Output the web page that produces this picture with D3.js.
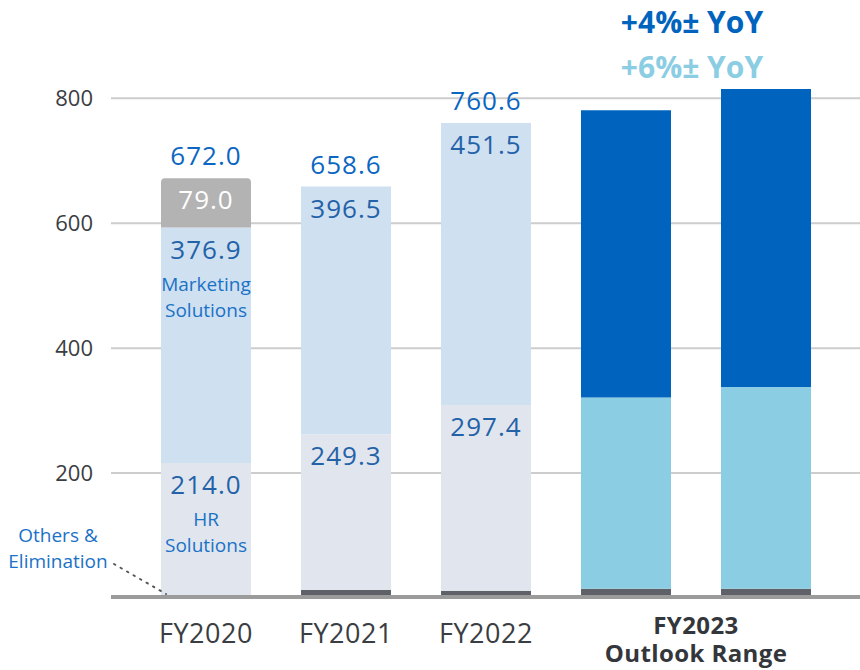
<!DOCTYPE html>
<html>
<head>
<meta charset="utf-8">
<script src="https://cdn.jsdelivr.net/npm/d3@7"></script>
<style>
  body { margin: 0; background: #fff; }
  svg { font-family: "Open Sans", "Noto Sans", sans-serif; }
</style>
</head>
<body>
<div class="main"></div>
<script>
// Données (milliards de yens)
const years = ['FY2020', 'FY2021', 'FY2022', 'FY2023L', 'FY2023H'];
const others = [2.1, 12.8, 11.7, 15, 15];
const hrSolutions = [214.0, 249.3, 297.4, 306, 323];
const marketingSolutions = [376.9, 396.5, 451.5, 460, 477];
const otherBusiness = [79.0, 0, 0, 0, 0];
const totals = [672.0, 658.6, 760.6, null, null];
const yTicks = [200, 400, 600, 800];
const xLabels = ['FY2020', 'FY2021', 'FY2022'];
const outlookLabels = ['+4%± YoY', '+6%± YoY'];

const width = 860;
const height = 670;

const rows = years.map((y, i) => ({
  year: y,
  others: others[i],
  hr: hrSolutions[i],
  marketing: marketingSolutions[i],
  business: otherBusiness[i]
}));
const keys = ['others', 'hr', 'marketing', 'business'];
const series = d3.stack().keys(keys)(rows);

const svg = d3.select('.main')
  .append('svg')
  .attr('width', width)
  .attr('height', height);

const x = d3.scaleBand()
  .domain(years)
  .range([136, 836])
  .paddingInner(50 / 140)
  .paddingOuter(25 / 140);

const y = d3.scaleLinear()
  .domain([0, 800])
  .range([598, 98.3]);

const isOutlook = d => d.startsWith('FY2023');
const couleurs = {
  others: () => '#5e6167',
  hr: d => isOutlook(d) ? '#8bcde3' : '#e1e6ee',
  marketing: d => isOutlook(d) ? '#0064be' : '#cfe0f1',
  business: () => '#b3b3b3'
};

// Lignes de grille
svg.append('g')
  .selectAll('line')
  .data(yTicks)
  .join('line')
  .attr('x1', 111).attr('x2', width)
  .attr('y1', d => y(d)).attr('y2', d => y(d))
  .attr('stroke', '#cdcdcd')
  .attr('stroke-width', 2);

// Axe vertical
svg.append('g')
  .attr('transform', 'translate(93,0)')
  .call(d3.axisLeft(y).tickValues(yTicks).tickSize(0).tickPadding(0))
  .call(g => g.select('.domain').remove())
  .call(g => g.selectAll('text')
    .attr('font-size', 22)
    .attr('font-family', '"Open Sans", sans-serif')
    .attr('fill', '#3a3d42'));

// Barres empilées
series.forEach(s => {
  svg.append('g')
    .selectAll('path')
    .data(s.filter(d => d[1] > d[0]))
    .join('path')
    .attr('fill', d => couleurs[s.key](d.data.year))
    .attr('d', d => {
      const x0 = x(d.data.year), w = x.bandwidth();
      const y0 = y(d[0]), y1 = y(d[1]);
      if (s.key === 'business') {
        const r = 4;
        return `M${x0},${y0}V${y1 + r}Q${x0},${y1} ${x0 + r},${y1}H${x0 + w - r}Q${x0 + w},${y1} ${x0 + w},${y1 + r}V${y0}Z`;
      }
      return `M${x0},${y0}V${y1}H${x0 + w}V${y0}Z`;
    });
});

// Ligne de base
svg.append('line')
  .attr('x1', 111).attr('x2', width)
  .attr('y1', y(0) - 1).attr('y2', y(0) - 1)
  .attr('stroke', '#9b9b9b')
  .attr('stroke-width', 4);

const cx = d => x(d) + x.bandwidth() / 2;

// Totaux
svg.append('g')
  .selectAll('text')
  .data(rows.filter((d, i) => totals[i] != null))
  .join('text')
  .attr('x', d => cx(d.year))
  .attr('y', (d, i) => y(totals[i]) - 13)
  .attr('text-anchor', 'middle')
  .attr('font-size', 26)
  .attr('letter-spacing', 1)
  .attr('fill', '#0a66c2')
  .text((d, i) => totals[i].toFixed(1));

// Valeurs des segments
const segLabels = [];
series.forEach(s => {
  if (s.key === 'others') return;
  s.forEach(d => {
    if (isOutlook(d.data.year) || d[1] <= d[0]) return;
    segLabels.push({ key: s.key, year: d.data.year, top: d[1], value: d.data[s.key] });
  });
});

svg.append('g')
  .selectAll('text')
  .data(segLabels)
  .join('text')
  .attr('x', d => cx(d.year))
  .attr('y', d => y(d.top) + 31)
  .attr('text-anchor', 'middle')
  .attr('font-size', 26)
  .attr('letter-spacing', 1)
  .attr('fill', d => d.key === 'business' ? '#ffffff' : '#2462a8')
  .text(d => d.value.toFixed(1));

// Noms des segments (FY2020)
const noms = [
  { key: 'marketing', lines: ['Marketing', 'Solutions'] },
  { key: 'hr', lines: ['HR', 'Solutions'] }
];
noms.forEach(n => {
  const d = series.find(s => s.key === n.key)[0];
  const t = svg.append('text')
    .attr('text-anchor', 'middle')
    .attr('font-size', 19)
    .attr('fill', '#1a72c6');
  n.lines.forEach((l, i) => {
    t.append('tspan')
      .attr('x', cx(d.data.year))
      .attr('y', y(d[1]) + 63 + i * 26)
      .text(l);
  });
});

// Others & Elimination
const oe = svg.append('text')
  .attr('text-anchor', 'middle')
  .attr('font-size', 19)
  .attr('fill', '#1a72c6');
oe.append('tspan').attr('x', 58).attr('y', 542).text('Others &');
oe.append('tspan').attr('x', 58).attr('y', 568).text('Elimination');

svg.append('line')
  .attr('x1', 114).attr('y1', 564)
  .attr('x2', x('FY2020') + 5).attr('y2', y(0) - 4)
  .attr('stroke', '#555')
  .attr('stroke-width', 2)
  .attr('stroke-dasharray', '1.5,6')
  .attr('stroke-linecap', 'round');

// Libellés de l'axe horizontal
svg.append('g')
  .selectAll('text')
  .data(xLabels)
  .join('text')
  .attr('x', d => cx(d))
  .attr('y', 643)
  .attr('text-anchor', 'middle')
  .attr('font-size', 27)
  .attr('letter-spacing', 0.5)
  .attr('fill', '#3a3d42')
  .text(d => d);

const outlookX = (cx('FY2023L') + cx('FY2023H')) / 2;
svg.append('g')
  .selectAll('text')
  .data(['FY2023', 'Outlook Range'])
  .join('text')
  .attr('x', outlookX)
  .attr('y', (d, i) => 634 + i * 28)
  .attr('text-anchor', 'middle')
  .attr('font-size', 24)
  .attr('font-weight', 'bold')
  .attr('letter-spacing', 0.4)
  .attr('fill', '#33363b')
  .text(d => d);

// Croissance prévue
svg.append('g')
  .selectAll('text')
  .data(outlookLabels)
  .join('text')
  .attr('x', outlookX - 4)
  .attr('y', (d, i) => 33 + i * 45)
  .attr('text-anchor', 'middle')
  .attr('font-size', 30)
  .attr('font-weight', 'bold')
  .attr('fill', (d, i) => i === 0 ? '#0064be' : '#8bcde3')
  .text(d => d);
</script>
</body>
</html>
